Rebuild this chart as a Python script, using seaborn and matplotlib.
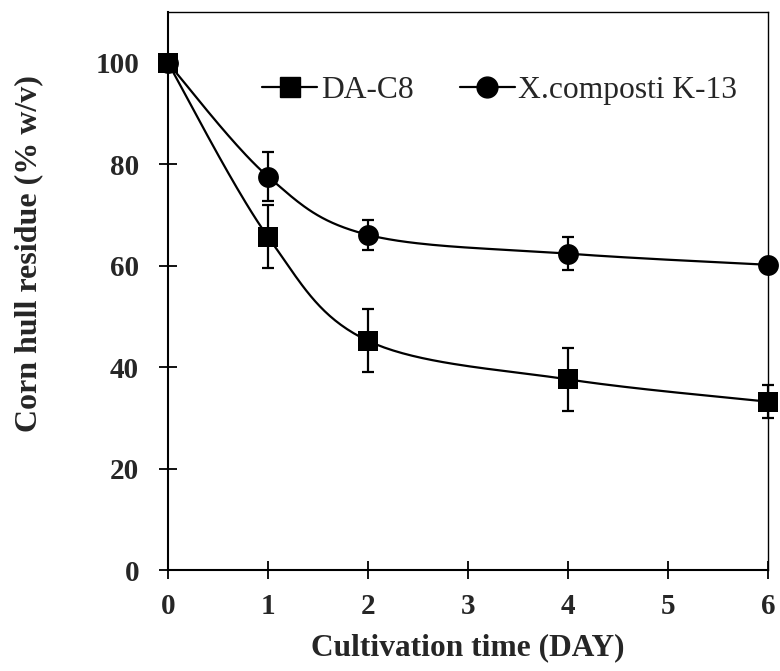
import numpy as np
import pandas as pd
import matplotlib
matplotlib.use("Agg")
import matplotlib.pyplot as plt
from matplotlib.lines import Line2D
import seaborn as sns

# ---- data ----
days = [0, 1, 2, 4, 6]
da_c8 = [100, 65.7, 45.2, 37.6, 33.2]
da_c8_err = [0, 6.2, 6.2, 6.2, 3.3]
k13 = [100, 77.6, 66.1, 62.4, 60.2]
k13_err = [0, 4.9, 3.0, 3.3, 0]
series_names = ["DA-C8", "X.composti K-13"]
x_ticks = [0, 1, 2, 3, 4, 5, 6]
y_ticks = [0, 20, 40, 60, 80, 100]

sns.set_theme(style="white")
plt.rcParams["font.family"] = ["Liberation Serif", "DejaVu Serif"]


def smooth(xs, ys, n=40):
    """Excel-style smoothed line (Catmull-Rom Bezier) through the data points."""
    P = np.column_stack([xs, ys]).astype(float)
    out = []
    for i in range(len(P) - 1):
        p0 = P[i - 1] if i > 0 else P[i]
        p1 = P[i]
        p2 = P[i + 1]
        p3 = P[i + 2] if i + 2 < len(P) else P[i + 1]
        c1 = p1 + (p2 - p0) / 6.0
        c2 = p2 - (p3 - p1) / 6.0
        t = np.linspace(0, 1, n)[:, None]
        seg = ((1 - t) ** 3) * p1 + 3 * ((1 - t) ** 2) * t * c1 + 3 * (1 - t) * t ** 2 * c2 + t ** 3 * p2
        out.append(seg if i == 0 else seg[1:])
    return np.vstack(out)


fig = plt.figure(figsize=(7.8, 6.71), dpi=100)
ax = fig.add_axes([0.2154, 0.1505, 0.7692, 0.8312])

markers = ["s", "o"]
msize = 15
for name, vals, errs, mk in zip(series_names, [da_c8, k13], [da_c8_err, k13_err], markers):
    curve = smooth(days, vals)
    cdf = pd.DataFrame({"x": curve[:, 0], "y": curve[:, 1]})
    sns.lineplot(data=cdf, x="x", y="y", sort=False, estimator=None, color="black",
                 linewidth=1.6, ax=ax, zorder=2)
    ax.errorbar(days, vals, yerr=errs, fmt="none", ecolor="black", elinewidth=1.6,
                capsize=4.3, capthick=1.6, zorder=3, clip_on=False)
    pdf = pd.DataFrame({"x": days, "y": vals})
    sns.scatterplot(data=pdf, x="x", y="y", marker=mk, color="black", s=msize ** 2,
                    edgecolor="black", linewidth=0, ax=ax, zorder=4, clip_on=False)

ax.set_xlim(0, 6)
ax.set_ylim(0, 110)
ax.set_xticks(x_ticks)
ax.set_yticks(y_ticks)
ax.set_xticklabels([str(v) for v in x_ticks], fontsize=21, fontweight="bold")
ax.set_yticklabels([str(v) for v in y_ticks], fontsize=21, fontweight="bold")
ax.tick_params(axis="both", direction="inout", length=13.5, width=1.3, color="black",
               bottom=True, left=True)
ax.tick_params(axis="x", pad=10)
ax.tick_params(axis="y", pad=14)

ax.set_xlabel("Cultivation time (DAY)", fontsize=22.6, fontweight="bold", labelpad=9)
ax.set_ylabel("Corn hull residue (% w/v)", fontsize=23, fontweight="bold")
ax.yaxis.set_label_coords(-0.208, 0.568)

for side in ["left", "bottom"]:
    ax.spines[side].set_linewidth(1.5)
    ax.spines[side].set_color("black")
for side in ["top", "right"]:
    ax.spines[side].set_linewidth(1.0)
    ax.spines[side].set_color("black")
ax.grid(False)

handles = [Line2D([], [], color="black", lw=1.6, marker=m, markersize=msize) for m in markers]
ax.legend(handles, series_names, ncol=2, loc="center", bbox_to_anchor=(0.553, 0.860),
          frameon=False, prop={"family": ["Liberation Serif"], "size": 22.7},
          handlelength=1.75, handletextpad=0.12, columnspacing=1.45)

fig.savefig("out.png", dpi=100)
